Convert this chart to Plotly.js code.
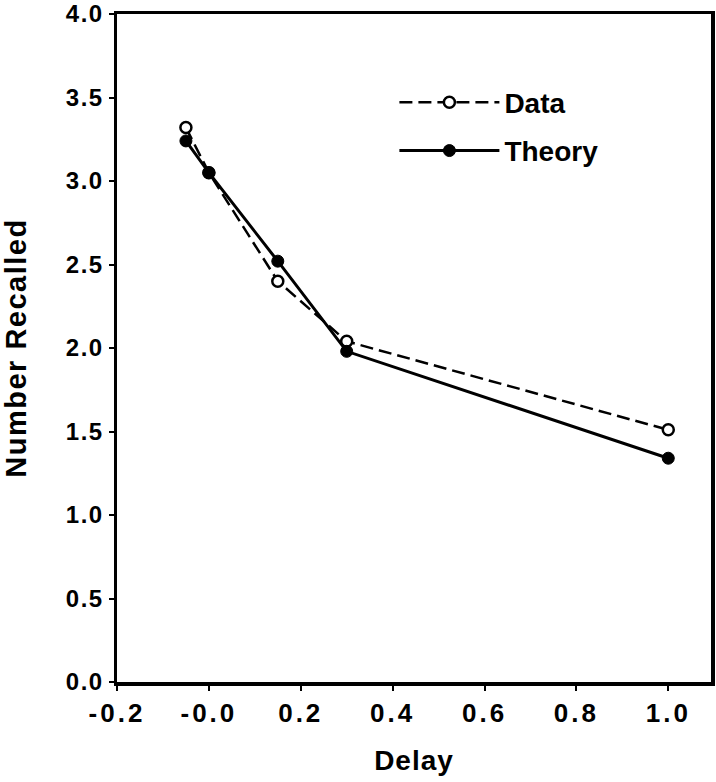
<!DOCTYPE html>
<html>
<head>
<meta charset="utf-8">
<script src="https://cdn.plot.ly/plotly-3.0.1.min.js"></script>
<style>
html,body{margin:0;padding:0;background:#fff;}
#chart{width:716px;height:782px;}
#chart .xtick text{letter-spacing:3px;}
#chart .ytick text{letter-spacing:1.5px;}
#chart .ytitle{letter-spacing:1.5px;}
#chart .xtitle{letter-spacing:1px;}
</style>
</head>
<body>
<div id="chart"></div>
<script>
var delay = [-0.05, 0.0, 0.15, 0.3, 1.0];
var dataRecalled = [3.32, 3.05, 2.40, 2.04, 1.51];
var theoryRecalled = [3.24, 3.05, 2.52, 1.98, 1.34];
var xTickVals = [-0.2, 0.0, 0.2, 0.4, 0.6, 0.8, 1.0];
var xTickText = ['-0.2', '-0.0', '0.2', '0.4', '0.6', '0.8', '1.0'];
var yTickVals = [0, 0.5, 1.0, 1.5, 2.0, 2.5, 3.0, 3.5, 4.0];
var yTickText = ['0.0', '0.5', '1.0', '1.5', '2.0', '2.5', '3.0', '3.5', '4.0'];

var font = 'Liberation Sans, Arial, sans-serif';

var traces = [
  {
    x: delay, y: dataRecalled, name: 'Data', type: 'scatter', mode: 'lines+markers',
    legendgroup: 'data',
    line: {color: '#000', width: 2.5, dash: '13px,6px'},
    marker: {symbol: 'circle', size: 11, color: '#fff', line: {color: '#000', width: 2.5}}
  },
  {
    x: delay, y: theoryRecalled, name: 'Theory', type: 'scatter', mode: 'lines+markers',
    legendgroup: 'theory',
    line: {color: '#000', width: 3},
    marker: {symbol: 'circle', size: 12, color: '#000', line: {color: '#000', width: 1}}
  }
];

var layout = {
  width: 716, height: 782,
  margin: {l: 117, r: 5, t: 14, b: 100},
  paper_bgcolor: '#fff', plot_bgcolor: '#fff',
  font: {family: font, color: '#000', size: 20, weight: 'bold'},
  showlegend: true,
  legend: {
    x: 0.467, y: 0.905, xanchor: 'left', yanchor: 'top',
    bgcolor: 'rgba(0,0,0,0)', borderwidth: 0,
    font: {family: font, size: 28, color: '#000', weight: 'bold'},
    itemwidth: 100, tracegroupgap: 9, traceorder: 'grouped'
  },
  xaxis: {
    range: [-0.2, 1.093], tickvals: xTickVals, ticktext: xTickText,
    showgrid: false, zeroline: false, showline: true, linecolor: '#000', linewidth: 3.5,
    mirror: true, ticks: 'outside', ticklen: 5, tickwidth: 2, tickcolor: '#000',
    tickfont: {family: font, size: 26, color: '#000', weight: 'bold'},
    title: {text: 'Delay', font: {family: font, size: 28, color: '#000', weight: 'bold'}, standoff: 24}
  },
  yaxis: {
    range: [0, 4.0], tickvals: yTickVals, ticktext: yTickText,
    showgrid: false, zeroline: false, showline: true, linecolor: '#000', linewidth: 3.5,
    mirror: true, ticks: 'outside', ticklen: 5, tickwidth: 2, tickcolor: '#000',
    tickfont: {family: font, size: 24, color: '#000', weight: 'bold'},
    title: {text: 'Number Recalled', font: {family: font, size: 29, color: '#000', weight: 'bold'}, standoff: 36}
  }
};

Plotly.newPlot('chart', traces, layout, {displayModeBar: false, staticPlot: true});
</script>
</body>
</html>
